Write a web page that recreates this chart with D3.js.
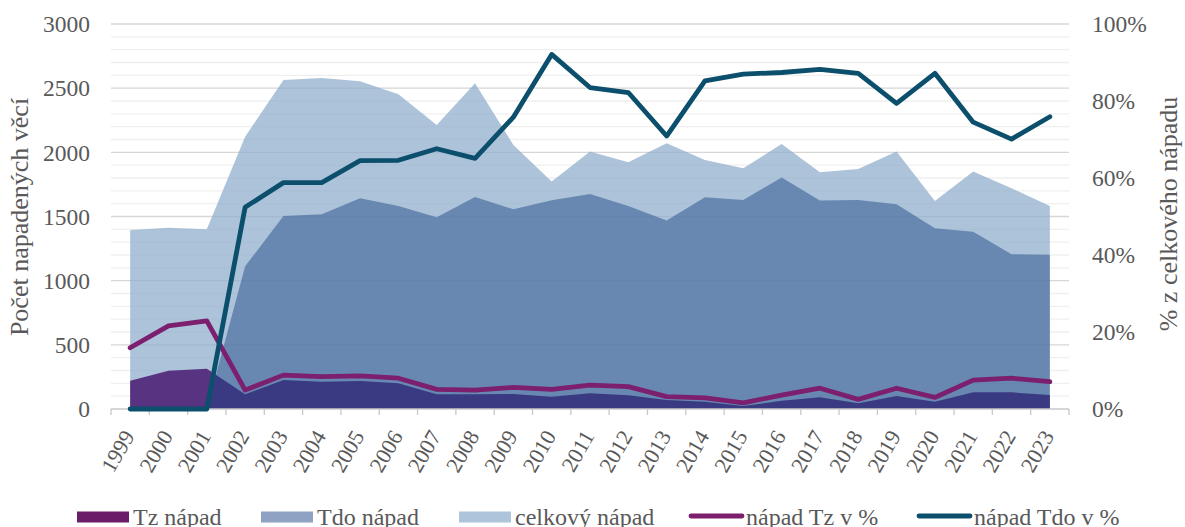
<!DOCTYPE html>
<html>
<head>
<meta charset="utf-8">
<script src="https://cdn.jsdelivr.net/npm/d3@7"></script>
<style>
  html, body { margin: 0; padding: 0; background: #fff; }
  svg { display: block; font-family: "Liberation Serif", "Times New Roman", serif; }
</style>
</head>
<body>
<svg id="chart" width="1185" height="527"></svg>
<script>
// ---- data ----
const years = ["1999","2000","2001","2002","2003","2004","2005","2006","2007","2008","2009","2010","2011","2012","2013","2014","2015","2016","2017","2018","2019","2020","2021","2022","2023"];
const celkovy = [1395, 1413, 1400, 2122, 2564, 2580, 2554, 2453, 2213, 2538, 2058, 1772, 2006, 1923, 2071, 1941, 1876, 2065, 1845, 1871, 2006, 1621, 1850, 1720, 1582];
const tdo = [0, 0, 0, 1112, 1504, 1517, 1642, 1582, 1494, 1652, 1556, 1626, 1676, 1582, 1468, 1650, 1629, 1803, 1624, 1629, 1595, 1408, 1382, 1206, 1201];
const tz = [220, 299, 314, 114, 226, 213, 218, 200, 114, 114, 117, 96, 122, 108, 70, 57, 23, 65, 91, 44, 101, 57, 130, 130, 109];
const tzPct = [15.9, 21.6, 22.9, 4.9, 8.8, 8.4, 8.6, 8.0, 5.1, 4.9, 5.6, 5.1, 6.2, 5.8, 3.2, 2.9, 1.6, 3.6, 5.4, 2.5, 5.4, 3.0, 7.5, 8.0, 7.1];
const tdoPct = [0, 0, 0, 52.4, 58.8, 58.8, 64.5, 64.6, 67.6, 65.1, 75.8, 92.1, 83.5, 82.2, 70.9, 85.2, 87.0, 87.4, 88.2, 87.2, 79.4, 87.2, 74.5, 70.1, 75.9];
const leftTicks = [0, 500, 1000, 1500, 2000, 2500, 3000];
const rightTicks = [0, 20, 40, 60, 80, 100];
const legendItems = [
  {label: "Tz nápad", type: "rect", color: "#6c1d6a"},
  {label: "Tdo nápad", type: "rect", color: "#8fa2c4"},
  {label: "celkový nápad", type: "rect", color: "#aec4da"},
  {label: "nápad Tz v %", type: "line", color: "#7b1f6e"},
  {label: "nápad Tdo v %", type: "line", color: "#0b4f6c"}
];

// ---- layout ----
const L = 111, R = 1069, T = 24, B = 409;
const textColor = "#595959";
const svg = d3.select("#chart");

const x = d3.scaleBand().domain(years).range([L, R]).padding(0);
const cx = d => x(d) + x.bandwidth() / 2;
const y = d3.scaleLinear().domain([0, 3000]).range([B, T]);
const y2 = d3.scaleLinear().domain([0, 100]).range([B, T]);

// gridlines
const grid = svg.append("g");
grid.selectAll("line").data(d3.range(100, 3001, 100)).join("line")
  .attr("x1", L).attr("x2", R)
  .attr("y1", d => y(d)).attr("y2", d => y(d))
  .attr("stroke", d => d % 500 === 0 ? "#d6d6d6" : "#efefef")
  .attr("stroke-width", 1.3);

const idx = d3.range(years.length);
const area = vals => d3.area()
  .x(i => cx(years[i]))
  .y0(y(0))
  .y1(i => y(vals[i]))(idx);

// celkový nápad
svg.append("path").attr("d", area(celkovy))
  .attr("fill", "#92afcc").attr("fill-opacity", 0.75);
// Tz nápad
svg.append("path").attr("d", area(tz))
  .attr("fill", "#573381");
// Tdo nápad
svg.append("path").attr("d", area(tdo))
  .attr("fill", "#174384").attr("fill-opacity", 0.46);

// x axis line and ticks
const xAxis = svg.append("g");
xAxis.append("line").attr("x1", L).attr("x2", R).attr("y1", B).attr("y2", B)
  .attr("stroke", "#c8c8c8").attr("stroke-width", 1.3);
const boundaries = years.map(d => x(d)).concat([R]);
xAxis.selectAll("line.tick").data(boundaries).join("line").attr("class", "tick")
  .attr("x1", d => d).attr("x2", d => d).attr("y1", B).attr("y2", B + 6)
  .attr("stroke", "#c8c8c8").attr("stroke-width", 1.3);

// lines
const line = (vals) => d3.line()
  .x(i => cx(years[i]))
  .y(i => y2(vals[i]))(idx);
svg.append("path").attr("d", line(tzPct))
  .attr("fill", "none").attr("stroke", "#7b1f6e").attr("stroke-width", 4.8)
  .attr("stroke-linejoin", "round").attr("stroke-linecap", "round");
svg.append("path").attr("d", line(tdoPct))
  .attr("fill", "none").attr("stroke", "#0b4f6c").attr("stroke-width", 4.8)
  .attr("stroke-linejoin", "round").attr("stroke-linecap", "round");

// x labels
svg.append("g").selectAll("text").data(years).join("text")
  .attr("transform", d => `translate(${cx(d) + 5},${436}) rotate(-60)`)
  .attr("text-anchor", "end")
  .attr("font-size", 22)
  .attr("fill", textColor)
  .text(d => d);

// left y labels
svg.append("g").selectAll("text").data(leftTicks).join("text")
  .attr("x", 90).attr("y", d => y(d)).attr("dy", "0.35em")
  .attr("text-anchor", "end").attr("font-size", 23.5).attr("fill", textColor)
  .text(d => d);

// right y labels
svg.append("g").selectAll("text").data(rightTicks).join("text")
  .attr("x", 1092).attr("y", d => y2(d)).attr("dy", "0.35em")
  .attr("text-anchor", "start").attr("font-size", 23.5).attr("fill", textColor)
  .text(d => d + "%");

// axis titles
svg.append("text").attr("transform", "translate(28,217) rotate(-90)")
  .attr("text-anchor", "middle").attr("font-size", 26).attr("fill", textColor)
  .text("Počet napadených věcí");
svg.append("text").attr("transform", "translate(1177,214) rotate(-90)")
  .attr("text-anchor", "middle").attr("font-size", 26).attr("fill", textColor)
  .text("% z celkového nápadu");

// legend
const legendX = [77, 261, 459, 689, 917];
const lg = svg.append("g");
legendItems.forEach((it, i) => {
  const g = lg.append("g").attr("transform", `translate(${legendX[i]},0)`);
  if (it.type === "rect") {
    g.append("rect").attr("x", 0).attr("y", 511.5).attr("width", 52).attr("height", 11)
      .attr("fill", it.color);
    g.append("text").attr("x", 56).attr("y", 525).attr("font-size", 24)
      .attr("fill", textColor).text(it.label);
  } else {
    g.append("line").attr("x1", 2).attr("x2", 53).attr("y1", 516).attr("y2", 516)
      .attr("stroke", it.color).attr("stroke-width", 4.8).attr("stroke-linecap", "round");
    g.append("text").attr("x", 57).attr("y", 525).attr("font-size", 24)
      .attr("fill", textColor).text(it.label);
  }
});
</script>
</body>
</html>
